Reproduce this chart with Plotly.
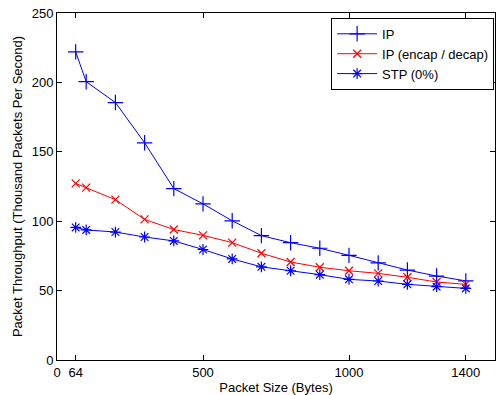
import plotly.graph_objects as go

packet_size = [64, 100, 200, 300, 400, 500, 600, 700, 800, 900, 1000, 1100, 1200, 1300, 1400]
ip = [222, 200.5, 185.5, 156.5, 123.5, 112.5, 100.3, 89.6, 84.5, 80.5, 75.4, 70, 64.8, 60.5, 57]
ip_encap = [127.2, 124.2, 115.5, 101.3, 94, 89.8, 84.6, 76.9, 70.6, 66.8, 64.3, 62.4, 59.6, 56.2, 54.5]
stp = [95.5, 93.7, 92.2, 88.6, 85.8, 79.6, 72.8, 67.1, 64.3, 61.5, 58.1, 56.9, 54.5, 52.8, 51.6]

x_ticks = [0, 64, 500, 1000, 1400]
y_ticks = [0, 50, 100, 150, 200, 250]

BLUE = "#0000FF"
RED = "#FF0000"
FONT = "Liberation Sans, Arial, sans-serif"

fig = go.Figure()
fig.add_trace(go.Scatter(x=packet_size, y=ip, name="IP", mode="lines+markers",
                         line=dict(color=BLUE, width=1),
                         marker=dict(symbol="cross-thin-open", size=11, color=BLUE,
                                     line=dict(color=BLUE, width=1.2))))
fig.add_trace(go.Scatter(x=packet_size, y=ip_encap, name="IP (encap / decap)", mode="lines+markers",
                         line=dict(color=RED, width=1),
                         marker=dict(symbol="x-thin-open", size=8, color=RED,
                                     line=dict(color=RED, width=1.2))))
fig.add_trace(go.Scatter(x=packet_size, y=stp, name="STP (0%)", mode="lines+markers",
                         line=dict(color=BLUE, width=1),
                         marker=dict(symbol="asterisk-open", size=9, color=BLUE,
                                     line=dict(color=BLUE, width=1.2))))

axis_common = dict(showline=True, linecolor="black", linewidth=1, mirror="ticks",
                   ticks="inside", ticklen=5, tickcolor="black", tickwidth=1,
                   showgrid=False, zeroline=False,
                   tickfont=dict(family=FONT, size=13, color="black"))

fig.update_xaxes(range=[0, 1500], tickvals=x_ticks, ticktext=[str(v) for v in x_ticks],
                 title=dict(text="Packet Size (Bytes)", font=dict(family=FONT, size=13, color="black"),
                            standoff=4),
                 **axis_common)
fig.update_yaxes(range=[0, 250], tickvals=y_ticks,
                 title=dict(text="Packet Throughput (Thousand Packets Per Second)",
                            font=dict(family=FONT, size=13, color="black"), standoff=6),
                 **axis_common)

fig.update_layout(
    width=496, height=395,
    margin=dict(l=57, r=1, t=13, b=35),
    paper_bgcolor="white", plot_bgcolor="white",
    font=dict(family=FONT, size=13, color="black"),
    legend=dict(x=0.998, y=0.986, xanchor="right", yanchor="top",
                bordercolor="black", borderwidth=1, bgcolor="white",
                font=dict(family=FONT, size=13, color="black"),
                itemwidth=40, tracegroupgap=0),
    showlegend=True,
)

fig.write_html("out.html")
